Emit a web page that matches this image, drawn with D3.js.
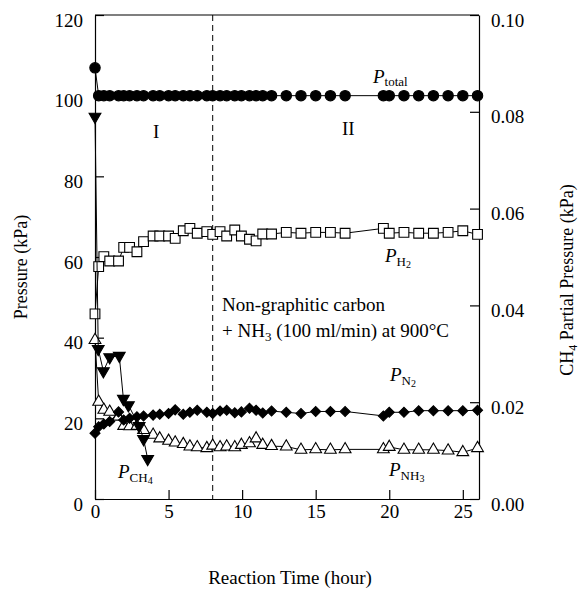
<!DOCTYPE html>
<html><head><meta charset="utf-8">
<script src="https://cdn.jsdelivr.net/npm/d3@7"></script>
<style>
body{margin:0;background:#fff}
svg{display:block}
</style>
</head><body>
<svg id="c" width="586" height="592" font-family="'Liberation Serif','Times New Roman',serif"></svg>
<script>
// ---- data ----
const times = [0, 0.25, 0.6, 1.0, 1.6, 1.95, 2.35, 2.85, 3.3, 3.95, 4.4, 5.0, 5.45, 6.0, 6.45, 6.95, 7.6, 8.0, 8.5, 8.95,
  9.5, 9.95, 10.5, 10.95, 11.4, 12.0, 13, 14, 15, 16, 17, 19.6, 20, 21, 22, 23, 24, 25, 26];
const pTotal = [106.9, 100, 100, 100, 100, 100, 100, 100, 100, 100, 100, 100, 100, 100, 100, 100, 100, 100, 100, 100,
  100, 100, 100, 100, 100, 100, 100, 100, 100, 100, 100, 100, 100, 100, 100, 100, 100, 100, 100];
const pH2 = [45.9, 57.6, 60.1, 59.0, 59.0, 62.4, 62.4, 61.3, 63.8, 65.2, 65.2, 65.2, 64.6, 66.5, 67.1, 65.9, 66.3, 65.6, 66.3, 65.2,
  66.7, 65.2, 64.4, 64.0, 65.7, 65.7, 66.1, 65.9, 66.1, 66.1, 65.9, 67.1, 65.9, 66.1, 65.9, 65.9, 66.1, 66.5, 65.6];
const pN2 = [16.3, 17.9, 18.6, 19.2, 21.6, 19.6, 20.0, 20.4, 20.6, 20.8, 21.0, 21.2, 22.1, 21.0, 21.5, 22.0, 21.5, 21.2, 21.8, 22.0,
  21.4, 21.6, 22.5, 22.0, 21.3, 21.8, 21.5, 21.2, 21.7, 21.7, 21.7, 20.6, 21.5, 21.5, 21.9, 21.9, 21.9, 21.9, 22.0];
const pNH3 = [39.4, 24.1, 22.1, 21.6, 20.4, 18.1, 18.0, 18.1, 17.1, 15.9, 15.0, 14.4, 14.0, 13.6, 13.0, 12.8, 12.6, 13.2, 12.8, 13.0,
  12.8, 13.4, 13.8, 15.0, 13.4, 13.1, 13.0, 12.2, 12.3, 12.2, 12.3, 12.3, 12.9, 12.2, 12.2, 12.2, 12.0, 11.6, 12.6];
const ch4Times = [0, 0.22, 0.57, 1.0, 1.65, 1.93, 2.27, 3.0, 3.3, 3.58];
const pCH4 = [0.079, 0.031, 0.0264, 0.0293, 0.0296, 0.0207, 0.0194, 0.0151, 0.0124, 0.0083];
const leftTicks = [0, 20, 40, 60, 80, 100, 120];
const rightTicks = [0, 0.02, 0.04, 0.06, 0.08, 0.10];
const bottomTicks = [0, 5, 10, 15, 20, 25];
const boundary = 8;

// ---- chart ----
const FONT = "'Liberation Serif','Times New Roman',serif";
const svg = d3.select('#c');
const L = 95, R = 479, T = 15, B = 499;
const x = d3.scaleLinear().domain([0, 26.1]).range([L, R]);
const yL = d3.scaleLinear().domain([0, 120]).range([B, T]);
const yR = d3.scaleLinear().domain([0, 0.1]).range([B, T]);

function styleAxis(g) {
  g.attr('font-family', FONT).attr('font-size', 19);
  g.selectAll('path.domain').attr('stroke', '#000').attr('stroke-width', 1.2);
  g.selectAll('.tick line').attr('stroke', '#000').attr('stroke-width', 1.2);
  g.selectAll('.tick text').attr('font-family', FONT).attr('font-size', 19).attr('fill', '#000');
}

const gL = svg.append('g').attr('transform', `translate(${L},0)`)
  .call(d3.axisLeft(yL).tickValues(leftTicks).tickSizeInner(-9).tickSizeOuter(0).tickPadding(12));
styleAxis(gL); gL.selectAll('.tick text').attr('dy', '0.58em');

const gR = svg.append('g').attr('transform', `translate(${R},0)`)
  .call(d3.axisRight(yR).tickValues(rightTicks).tickFormat(d3.format('.2f')).tickSizeInner(-9).tickSizeOuter(0).tickPadding(12));
styleAxis(gR); gR.selectAll('.tick text').attr('dy', '0.58em');

const gB = svg.append('g').attr('transform', `translate(0,${B})`)
  .call(d3.axisBottom(x).tickValues(bottomTicks).tickSizeInner(-9).tickSizeOuter(0).tickPadding(6));
styleAxis(gB);

svg.append('line').attr('x1', L).attr('x2', R).attr('y1', T).attr('y2', T)
  .attr('stroke', '#000').attr('stroke-width', 1.2);

svg.append('line').attr('x1', x(boundary)).attr('x2', x(boundary)).attr('y1', T).attr('y2', B)
  .attr('stroke', '#000').attr('stroke-width', 1).attr('stroke-dasharray', '6,4');

// series
function series(ts, vs, yScale, shape, fill, size, rot) {
  const data = ts.map((t, i) => [t, vs[i]]);
  svg.append('path').datum(data)
    .attr('d', d3.line().x(d => x(d[0])).y(d => yScale(d[1])))
    .attr('fill', 'none').attr('stroke', '#000').attr('stroke-width', 1);
  const sym = d3.symbol().type(shape).size(size);
  svg.append('g').selectAll('path').data(data).join('path')
    .attr('d', sym)
    .attr('transform', d => `translate(${x(d[0])},${yScale(d[1])}) rotate(${rot || 0})`)
    .attr('fill', fill).attr('stroke', '#000').attr('stroke-width', 1.1);
}

series(times, pNH3, yL, d3.symbolTriangle, '#fff', 60, 0);
series(times, pN2, yL, d3.symbolSquare, '#000', 50, 45);
series(times, pH2, yL, d3.symbolSquare, '#fff', 95, 0);
series(ch4Times, pCH4, yR, d3.symbolTriangle, '#000', 60, 180);
series(times, pTotal, yL, d3.symbolCircle, '#000', 85, 0);

// labels
function txt(xp, yp, size) {
  return svg.append('text').attr('x', xp).attr('y', yp).attr('font-size', size).attr('font-family', FONT).attr('fill', '#000');
}
function pLabel(xp, yp, parts) {
  const t = txt(xp, yp, 19);
  t.append('tspan').attr('font-style', 'italic').text('P');
  parts.forEach(p => t.append('tspan').attr('font-size', p[1]).attr('dy', p[2]).text(p[0]));
}
pLabel(373, 83, [['total', 13, 3]]);
pLabel(385, 262, [['H', 13, 4], ['2', 10, 2]]);
pLabel(390, 381, [['N', 13, 4], ['2', 10, 2]]);
pLabel(389, 476, [['NH', 13, 4], ['3', 10, 2]]);
pLabel(118, 478, [['CH', 13, 4], ['4', 10, 2]]);

txt(153, 138, 19).text('I');
txt(342, 135, 19).text('II');
txt(222, 311, 19).text('Non-graphitic carbon');
const t2 = txt(222, 337, 19);
t2.append('tspan').text('+ NH');
t2.append('tspan').attr('font-size', 13).attr('dy', 4).text('3');
t2.append('tspan').attr('dy', -4).text(' (100 ml/min) at 900°C');

txt(0, 0, 18).attr('x', null).attr('y', null)
  .attr('transform', 'translate(27,267) rotate(-90)').attr('text-anchor', 'middle').text('Pressure (kPa)');
const rt = txt(0, 0, 18).attr('x', null).attr('y', null)
  .attr('transform', 'translate(573,280) rotate(-90)').attr('text-anchor', 'middle');
rt.append('tspan').text('CH');
rt.append('tspan').attr('font-size', 12).attr('dy', 4).text('4');
rt.append('tspan').attr('dy', -4).text(' Partial Pressure (kPa)');

txt(290, 584, 19).attr('text-anchor', 'middle').text('Reaction Time (hour)');
</script>
</body></html>
